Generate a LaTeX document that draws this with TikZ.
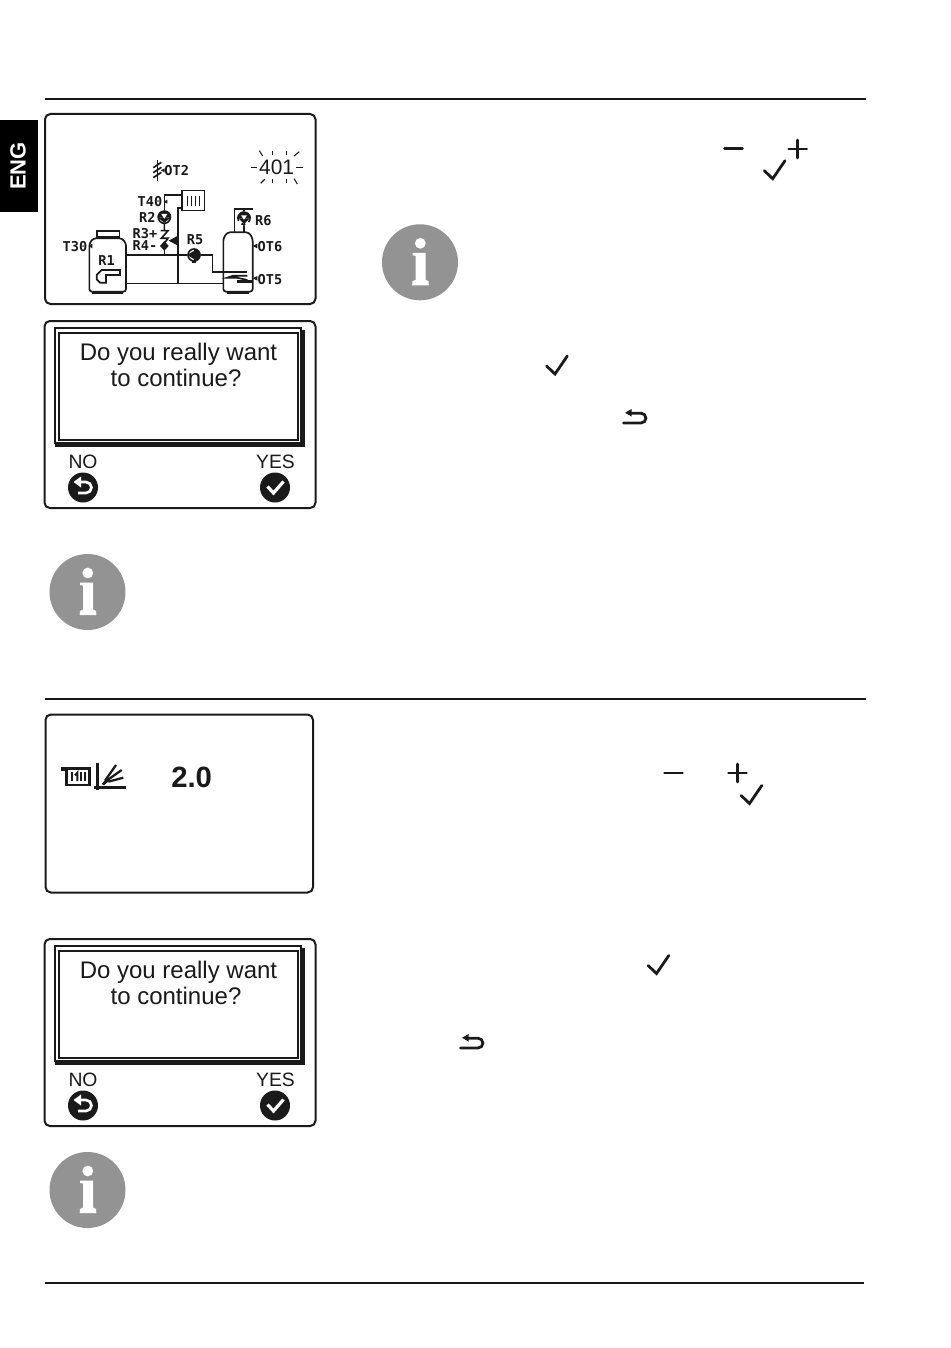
\documentclass[tikz,border=0pt]{standalone}
\usepackage{fontspec}
\setmainfont{Liberation Sans}
\newfontfamily\lcdmono{DejaVu Sans Mono}
\definecolor{ink}{HTML}{1A1A1A}
\definecolor{infogrey}{HTML}{939393}
\tikzset{
  rulebar/.style={draw=ink,line width=1.4pt},
  screen/.style={draw=ink,line width=1.5pt,rounded corners=4pt,fill=white},
  keysym/.style={draw=ink,line width=2.1pt,line cap=round,line join=miter},
  pipe/.style={draw=ink,line width=1.25pt},
  lcdlabel/.style={inner sep=0pt,text=ink,font=\lcdmono\bfseries\fontsize{10.2}{11}\selectfont},
  dialogtext/.style={inner sep=0pt,text=ink,font=\fontsize{18}{20}\selectfont},
  softlabel/.style={inner sep=0pt,text=ink,font=\fontsize{14.5}{15}\selectfont},
}
% key symbols
\newcommand{\chkmark}[2]{\draw[keysym] (#1-8.4,#2-8) -- (#1,#2) -- (#1+12.3,#2-18);}
\newcommand{\backsym}[2]{%
  \draw[keysym] (#1,#2) -- (#1+17.5,#2) arc[start angle=90,end angle=-90,radius=4.9] -- (#1+7,#2-9.8);
  \fill[ink] (#1+1.6,#2-10.2) -- (#1+8,#2-14) -- (#1+8,#2-6.5) -- cycle;}
\newcommand{\minussym}[2]{\draw[keysym] (#1-9,#2) -- (#1+9,#2);}
\newcommand{\plussym}[2]{\draw[keysym] (#1-9,#2) -- (#1+9,#2) (#1,#2-9) -- (#1,#2+9);}
\newcommand{\infosym}[2]{%
  \begin{scope}[shift={(#1,#2)}]
    \fill[infogrey] (0,0) circle[radius=38];
    \fill[white] (0.3,-19) circle[radius=5.4];
    \fill[white] (-7.4,-9.5) -- (5.6,-9.5) -- (5.6,17.5) -- (8.6,19) -- (8.8,23) -- (-7.8,23) -- (-7.6,19) -- (-4.3,17.5) -- (-4.3,-6.4) -- (-7.4,-7) -- cycle;
  \end{scope}}
\newcommand{\dialogbox}[2]{%
  \begin{scope}[shift={(0,#2)}]
    \draw[screen] (44.5,321) rectangle (315.5,508);
    \draw[draw=ink,line width=1.1pt] (55,328) rectangle (301,443);
    \draw[draw=ink,line width=1.1pt] (59,333) rectangle (298,440);
    \fill[ink] (55,443.2) rectangle (304.5,447);
    \fill[ink] (301,330) rectangle (304.5,447);
    \node[dialogtext,anchor=base] (#1a) at (178.5,360.5) {Do you really want};
    \node[dialogtext,anchor=base] (#1b) at (176,386.5) {to continue?};
    \node[softlabel,anchor=base] (#1no) at (83,468.5) {NO};
    \node[softlabel,anchor=base] (#1yes) at (275.5,468.5) {YES};
    \fill[ink] (83,487.5) circle[radius=15];
    \draw[white,line width=2pt] (76.5,482) -- (86,482) arc[start angle=-90,end angle=90,radius=5.5] -- (78,493);
    \fill[white] (73.5,482) -- (81,476.5) -- (81,487.5) -- cycle;
    \fill[ink] (275,487.5) circle[radius=15];
    \draw[white,line width=2.4pt] (267.5,486.5) -- (273.5,493) -- (283.5,481.5);
  \end{scope}}
\begin{document}
\begin{tikzpicture}[x=0.75pt,y=-0.75pt]
\path[use as bounding box,fill=white] (0,0) rectangle (950,1348);
% rules
\draw[rulebar] (45,99) -- (866,99);
\draw[rulebar] (45,699) -- (866,699);
\draw[rulebar] (45,1283) -- (864,1283);
% language tab
\fill[black] (0,120) rectangle (38,212);
\node[inner sep=0pt,text=white,rotate=90,font=\bfseries\fontsize{16.5}{18}\selectfont] (eng) at (18,166) {ENG};
% first screen
\draw[screen] (45,114) rectangle (315.5,304);
\begin{scope}[shift={(40,110)},x=0.25pt,y=-0.25pt]
  % pipes
  \draw[pipe] (258,435) -- (440,435);
  \draw[pipe] (258,520) -- (550,520);
  \draw[pipe] (413,520) -- (413,295) -- (425,295);
  \draw[pipe] (373,435) -- (373,255) -- (425,255);
  \draw[pipe] (480,435) -- (517,435) -- (517,485) -- (620,485);
  % boiler
  \draw[pipe,rounded corners=2pt] (148,400) -- (160,385) -- (246,385) -- (258,400) -- (258,545) -- (148,545) -- cycle;
  \draw[pipe] (170,382) -- (170,363) -- (238,363) -- (238,382) -- cycle;
  \fill[ink] (155,543) rectangle (250,552);
  \draw[pipe] (170,495) -- (185,480) -- (240,480) -- (240,495) -- (198,495) -- (198,518) -- (180,518) -- (170,508) -- cycle;
  \node[lcdlabel] (r1) at (200,452) {R1};
  \node[lcdlabel] (t30) at (105,410) {T30};
  \fill[ink] (146,408) -- (157,401) -- (157,415) -- cycle;
  % radiator
  \draw[pipe,fill=white] (425,242) rectangle (493,302);
  \foreach \bx in {442,454,466,478} {\draw[pipe] (\bx,257) -- (\bx,288);}
  % pumps
  \fill[white] (373,322) circle[radius=21];
  \fill[ink] (352,322) arc[start angle=180,end angle=360,radius=21] -- cycle;
  \draw[pipe] (373,322) circle[radius=18];
  \fill[ink] (352,322) -- (394,322) -- (373,338) -- cycle;
  \fill[white] (364,312) -- (382,312) -- (373,326) -- cycle;
  \fill[white] (462,435) circle[radius=21];
  \draw[pipe] (462,435) circle[radius=18];
  \fill[ink] (462,417) arc[start angle=-90,end angle=90,radius=18] -- cycle;
  \fill[ink] (442,435) -- (466,420) -- (466,450) -- cycle;
  \fill[ink] (456,452) rectangle (468,460);
  % valve
  \fill[white] (355,345) rectangle (392,395);
  \draw[pipe] (373,340) -- (373,362) (362,362) -- (384,362) -- (364,385) -- (384,385) -- (373,400);
  \fill[ink] (373,393) -- (386,408) -- (373,422) -- (360,408) -- cycle;
  \fill[ink] (386,392) -- (412,378) -- (412,406) -- cycle;
  \draw[pipe] (373,420) -- (373,435);
  % labels left
  \node[lcdlabel] (t40) at (330,275) {T40};
  \fill[ink] (371,275) -- (382,269) -- (382,281) -- cycle;
  \node[lcdlabel] (r2) at (322,322) {R2};
  \node[lcdlabel] (r3) at (315,372) {R3+};
  \node[lcdlabel] (r4) at (315,408) {R4-};
  \node[lcdlabel] (r5) at (465,388) {R5};
  \node[lcdlabel] (r6) at (670,332) {R6};
  % tank
  \draw[pipe] (583,367) -- (583,297) -- (640,297);
  \draw[pipe] (612,297) -- (612,367);
  \fill[white] (612,325) circle[radius=21];
  \fill[ink] (591,325) arc[start angle=180,end angle=360,radius=21] -- cycle;
  \draw[pipe,dashed] (612,325) circle[radius=18];
  \fill[ink] (595,325) -- (629,325) -- (612,342) -- cycle;
  \fill[white] (603,316) -- (621,316) -- (612,329) -- cycle;
  \draw[pipe,rounded corners=2pt] (550,385) -- (562,367) -- (626,367) -- (638,385) -- (638,545) -- (550,545) -- cycle;
  \fill[ink] (562,543) rectangle (628,552);
  \draw[pipe] (622,497) -- (580,497) -- (562,503) -- (590,503) -- (622,510);
  \fill[ink] (560,482) rectangle (622,488);
  \fill[ink] (590,510) rectangle (635,518);
  \node[lcdlabel] (ot6) at (690,410) {OT6};
  \fill[ink] (638,408) -- (652,401) -- (652,415) -- cycle;
  \node[lcdlabel] (ot5) at (690,510) {OT5};
  \fill[ink] (638,505) -- (652,498) -- (652,512) -- cycle;
  % outdoor sensor
  \node[lcdlabel] (ot2) at (410,181) {OT2};
  \draw[pipe] (352,150) -- (352,212);
  \foreach \oy in {165,180,195} {\draw[pipe] (340,\oy+8) -- (364,\oy-8);}
  \fill[ink] (362,181) -- (374,175) -- (374,187) -- cycle;
  % code
  \node[inner sep=0pt,text=ink,font=\fontsize{15.7}{18}\selectfont] (code) at (710,171) {401};
  \foreach \ax/\ay/\bx/\by in {632/172/652/172,768/172/788/172,658/122/668/138,697/122/697/136,740/122/740/136,778/125/762/138,662/220/674/208,697/206/697/220,740/206/740/220,772/222/762/206}
    {\draw[draw=ink,line width=0.8pt] (\ax,\ay) -- (\bx,\by);}
\end{scope}
% dialogs
\dialogbox{da}{0}
\dialogbox{db}{618}
% third screen
\draw[screen] (45.5,714.5) rectangle (313,892.5);
\begin{scope}[shift={(40,710)},x=0.25pt,y=-0.25pt]
  \fill[ink] (64,172) rectangle (82,184);
  \draw[pipe,line width=1.8pt] (80,175) rectangle (149,225);
  \draw[pipe,line width=1.5pt] (95,187) -- (95,213) (123,187) -- (123,213) (136,187) -- (136,213);
  \draw[pipe,line width=1.5pt] (105,196) -- (112,188) -- (112,213);
  \draw[pipe,line width=1.8pt] (172,158) -- (172,240);
  \draw[pipe,line width=1.8pt] (163,232) -- (258,232);
  \fill[ink] (185,222) -- (200,205) -- (208,212) -- (192,226) -- cycle;
  \draw[pipe,line width=1.7pt] (195,212) -- (228,165);
  \draw[pipe,line width=1.7pt] (200,212) -- (245,180);
  \draw[pipe,line width=1.7pt] (205,215) -- (250,203);
  \node[inner sep=0pt,text=ink,font=\bfseries\fontsize{22}{24}\selectfont] (val) at (455,203) {2.0};
\end{scope}
% info icons
\infosym{420}{262.3}
\infosym{87.5}{592}
\infosym{87.5}{1190}
% key symbols, upper block
\minussym{733.5}{148.7}
\plussym{797.7}{149}
\chkmark{772.7}{178.7}
\chkmark{555}{374}
\backsym{623.5}{423}
% key symbols, lower block
\minussym{673.5}{773}
\plussym{737.5}{773}
\chkmark{749.5}{803.5}
\chkmark{656.5}{973.5}
\backsym{460.5}{1048}
\end{tikzpicture}
\end{document}
